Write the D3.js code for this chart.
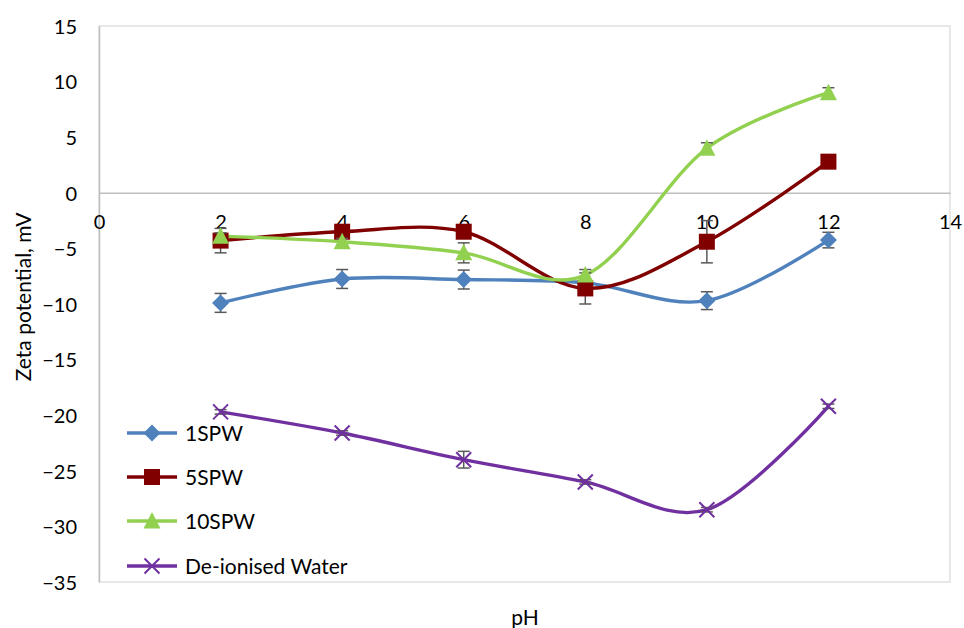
<!DOCTYPE html>
<html>
<head>
<meta charset="utf-8">
<script src="https://cdn.jsdelivr.net/npm/d3@7"></script>
<style>
  html, body { margin: 0; padding: 0; background: #fff; }
  svg text { font-family: Lato, "Open Sans", "Liberation Sans", sans-serif; fill: #000; }
</style>
</head>
<body>
<svg id="chart" width="964" height="628"></svg>
<script>
// pH values shared by all series
const phValues = [2, 4, 6, 8, 10, 12];

// Zeta potential (mV) per series, with standard deviations for error bars
const spw1 = [-9.9, -7.75, -7.8, -8.1, -9.7, -4.25];
const spw1Err = [0.85, 0.85, 0.85, 0.3, 0.8, 0.7];
const spw5 = [-4.3, -3.5, -3.5, -8.6, -4.4, 2.8];
const spw5Err = [1.1, 0.3, 0.3, 1.4, 1.9, 0.4];
const spw10 = [-3.9, -4.4, -5.4, -7.4, 4.0, 9.0];
const spw10Err = [0.3, 0.3, 0.9, 0.5, 0.5, 0.45];
const water = [-19.7, -21.6, -24.0, -26.0, -28.5, -19.2];
const waterErr = [0.2, 0.2, 0.75, 0.2, 0.2, 0.2];

const seriesNames = ["1SPW", "5SPW", "10SPW", "De-ionised Water"];
const seriesColors = ["#4F81BD", "#800000", "#92D050", "#7030A0"];
const seriesMarkers = ["diamond", "square", "triangle", "cross"];

const xTicks = [0, 2, 4, 6, 8, 10, 12, 14];
const yTicks = [15, 10, 5, 0, -5, -10, -15, -20, -25, -30, -35];

const series = [
  { values: spw1, errs: spw1Err },
  { values: spw5, errs: spw5Err },
  { values: spw10, errs: spw10Err },
  { values: water, errs: waterErr }
].map((s, i) => ({
  name: seriesNames[i], color: seriesColors[i], marker: seriesMarkers[i],
  points: phValues.map((x, j) => ({ x, y: s.values[j], e: s.errs[j] }))
}));

const svg = d3.select("#chart");
const plot = { left: 99, top: 26, right: 950, bottom: 582 };

const x = d3.scaleLinear().domain([0, 14]).range([plot.left, plot.right]);
const y = d3.scaleLinear().domain([-35, 15]).range([plot.bottom, plot.top]);

// Plot area frame
svg.append("rect")
  .attr("x", plot.left).attr("y", plot.top)
  .attr("width", plot.right - plot.left).attr("height", plot.bottom - plot.top)
  .attr("fill", "none").attr("stroke", "#D9D9D9").attr("stroke-width", 1.2);

// Y axis (left edge)
const yAxis = d3.axisLeft(y).tickValues(yTicks).tickSize(0).tickPadding(22)
  .tickFormat(d3.format("d"));
const gy = svg.append("g").attr("transform", `translate(${plot.left},0)`).call(yAxis);
gy.select(".domain").attr("stroke", "#BFBFBF").attr("stroke-width", 1.5);
gy.selectAll("text").attr("font-size", 20).attr("dy", "0.36em");

// X axis crossing at zero
const xAxis = d3.axisBottom(x).tickValues(xTicks).tickSize(0).tickPadding(22)
  .tickFormat(d3.format("d"));
const gx = svg.append("g").attr("transform", `translate(0,${y(0)})`).call(xAxis);
gx.select(".domain").attr("stroke", "#BFBFBF").attr("stroke-width", 1.5);
gx.selectAll("text").attr("font-size", 20);

// Axis titles
svg.append("text")
  .attr("transform", `translate(31,297) rotate(-90)`)
  .attr("text-anchor", "middle").attr("font-size", 21)
  .text("Zeta potential, mV");
svg.append("text")
  .attr("x", 525).attr("y", 625)
  .attr("text-anchor", "middle").attr("font-size", 21)
  .text("pH");

// Marker shapes
function drawMarker(g, type, color, cx, cy) {
  if (type === "diamond") {
    g.append("path").attr("d", `M${cx},${cy - 8.5}L${cx + 8.5},${cy}L${cx},${cy + 8.5}L${cx - 8.5},${cy}Z`)
      .attr("fill", color);
  } else if (type === "square") {
    g.append("rect").attr("x", cx - 8).attr("y", cy - 8).attr("width", 16).attr("height", 16)
      .attr("fill", color);
  } else if (type === "triangle") {
    g.append("path").attr("d", `M${cx},${cy - 9}L${cx + 8.5},${cy + 7.5}L${cx - 8.5},${cy + 7.5}Z`)
      .attr("fill", color);
  } else {
    g.append("path").attr("d", `M${cx - 7.5},${cy - 7.5}L${cx + 7.5},${cy + 7.5}M${cx + 7.5},${cy - 7.5}L${cx - 7.5},${cy + 7.5}`)
      .attr("stroke", color).attr("stroke-width", 2).attr("fill", "none");
  }
}

const line = d3.line().x(d => x(d.x)).y(d => y(d.y)).curve(d3.curveCardinal.tension(0));

series.forEach(s => {
  svg.append("path").datum(s.points).attr("d", line)
    .attr("fill", "none").attr("stroke", s.color).attr("stroke-width", 3.4)
    .attr("stroke-linejoin", "round");
});

// Error bars and markers
series.forEach(s => {
  const g = svg.append("g");
  s.points.forEach(p => {
    const px = x(p.x), y1 = y(p.y + p.e), y2 = y(p.y - p.e);
    const eb = g.append("g").attr("stroke", "#595959").attr("stroke-width", 1.5);
    eb.append("line").attr("x1", px).attr("x2", px).attr("y1", y1).attr("y2", y2);
    eb.append("line").attr("x1", px - 6).attr("x2", px + 6).attr("y1", y1).attr("y2", y1);
    eb.append("line").attr("x1", px - 6).attr("x2", px + 6).attr("y1", y2).attr("y2", y2);
    drawMarker(g, s.marker, s.color, px, y(p.y));
  });
});

// Legend
const legendRows = [433, 477, 521, 566];
series.forEach((s, i) => {
  const g = svg.append("g");
  const ly = legendRows[i];
  g.append("line").attr("x1", 127).attr("x2", 177).attr("y1", ly).attr("y2", ly)
    .attr("stroke", s.color).attr("stroke-width", 3.4);
  drawMarker(g, s.marker, s.color, 152, ly);
  g.append("text").attr("x", 185).attr("y", ly).attr("dy", "0.36em")
    .attr("font-size", 21).text(s.name);
});
</script>
</body>
</html>
